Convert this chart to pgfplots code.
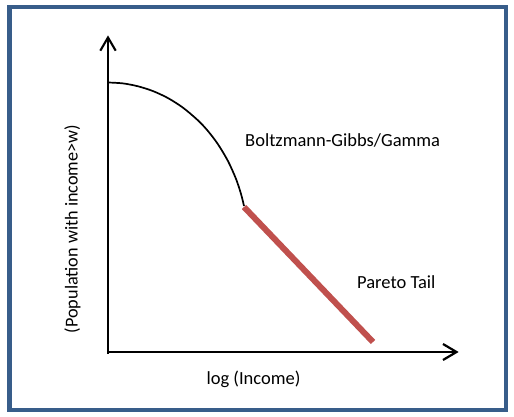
\documentclass[border=0pt]{standalone}
\usepackage{pgfplots}
\pgfplotsset{compat=1.18}
\usepackage{fontspec}
\setmainfont{Carlito}
\definecolor{framecol}{RGB}{56,93,138}
\definecolor{paretored}{RGB}{192,80,77}
\begin{document}
\begin{tikzpicture}
\begin{axis}[
  width=514pt, height=417pt, scale only axis,
  xmin=0, xmax=514, ymin=0, ymax=417,
  hide axis, clip=false,
]
% page background (sets the picture size)
\addplot[fill=white, draw=none] coordinates {(0,0)(514,0)(514,417)(0,417)} -- cycle;
% frame
\addplot[draw=framecol, line width=4.3pt, line join=miter] coordinates {(9.5,7)(506,7)(506,410)(9.5,410)} -- cycle;
% axes
\addplot[black, line width=2.1pt] coordinates {(108,63)(108,379)};
\addplot[black, line width=2.2pt] coordinates {(107,65)(456,65)};
% arrow heads
\addplot[black, line width=2.1pt, line join=miter] coordinates {(100.3,366.3)(108,379.5)(115.7,366.3)};
\addplot[black, line width=2.2pt, line join=miter] coordinates {(443,73)(456.5,65)(443,57)};
% Boltzmann-Gibbs / Gamma part
\addplot[black, line width=1.7pt, smooth] coordinates {
  (108,334.5)(123,333.6)(138,330.7)(153,325.9)(168,318.9)(183,309.3)(198,296.6)
  (208,285.9)(218,272.7)(228,255.9)(236,238.1)(241,223.1)(244,211)
};
% Pareto tail
\addplot[paretored, line width=6pt] coordinates {(244,210)(373,75)};
\node[anchor=base west, inner sep=0pt, font=\fontsize{18.5}{22}\selectfont] at (axis cs:245,270) {Boltzmann-Gibbs/Gamma};
\node[anchor=base west, inner sep=0pt, font=\fontsize{18.5}{22}\selectfont] at (axis cs:357,128) {Pareto Tail};
\node[anchor=base, inner sep=0pt, font=\fontsize{18.5}{22}\selectfont] at (axis cs:253.5,32) {log (Income)};
\node[anchor=base, rotate=90, inner sep=0pt, font=\fontsize{18.2}{22}\selectfont] at (axis cs:77.5,188) {(Population with income>w)};
\end{axis}
\end{tikzpicture}
\end{document}
